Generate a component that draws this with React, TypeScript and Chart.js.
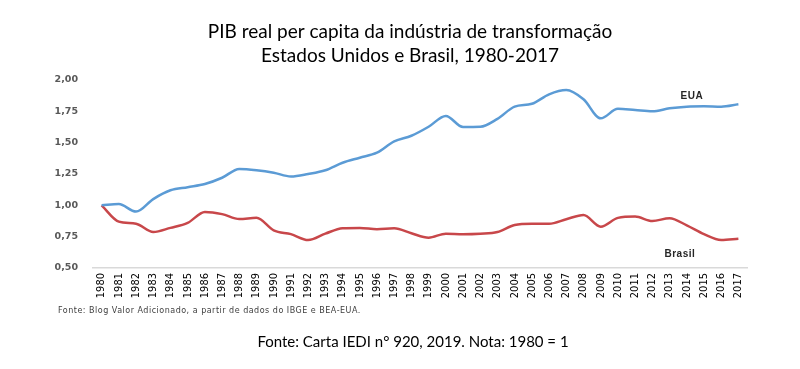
import React, { useEffect, useRef } from "react";
import { Chart, registerables } from "chart.js";

Chart.register(...registerables);

const years: string[] = [
  "1980","1981","1982","1983","1984","1985","1986","1987","1988","1989",
  "1990","1991","1992","1993","1994","1995","1996","1997","1998","1999",
  "2000","2001","2002","2003","2004","2005","2006","2007","2008","2009",
  "2010","2011","2012","2013","2014","2015","2016","2017",
];

const eua: number[] = [
  1.0, 1.01, 0.95, 1.05, 1.12, 1.145, 1.17, 1.22, 1.29, 1.28,
  1.26, 1.23, 1.25, 1.28, 1.34, 1.38, 1.42, 1.51, 1.555, 1.627,
  1.713, 1.625, 1.627, 1.69, 1.787, 1.81, 1.886, 1.92, 1.846, 1.694,
  1.77, 1.76, 1.75, 1.774, 1.787, 1.79, 1.787, 1.806,
];

const brasil: number[] = [
  1.0, 0.87, 0.853, 0.787, 0.82, 0.86, 0.947, 0.93, 0.89, 0.9,
  0.8, 0.77, 0.723, 0.774, 0.817, 0.82, 0.81, 0.817, 0.777, 0.742,
  0.774, 0.77, 0.774, 0.787, 0.843, 0.853, 0.853, 0.889, 0.923, 0.83,
  0.9, 0.91, 0.875, 0.897, 0.84, 0.77, 0.723, 0.734,
];

const yTicks: number[] = [0.5, 0.75, 1.0, 1.25, 1.5, 1.75, 2.0];

const titleLines: string[] = [
  "PIB real per capita da indústria de transformação",
  "Estados Unidos e Brasil, 1980-2017",
];
const smallSource = "Fonte: Blog Valor Adicionado, a partir de dados do IBGE e BEA-EUA.";
const footer = "Fonte: Carta IEDI n° 920, 2019. Nota: 1980 = 1";
const seriesLabels = [
  { text: "EUA", x: 34.3, y: 1.87 },
  { text: "Brasil", x: 33.6, y: 0.61 },
];

export default function App() {
  const ref = useRef<HTMLCanvasElement | null>(null);

  useEffect(() => {
    document.body.style.margin = "0";
    const canvas = ref.current!;
    const textPlugin = {
      id: "texts",
      afterDraw(chart: any) {
        const ctx = chart.ctx as CanvasRenderingContext2D;
        const xs = chart.scales.x;
        const ys = chart.scales.y;
        ctx.save();
        ctx.textBaseline = "middle";
        ctx.textAlign = "center";
        ctx.fillStyle = "#000000";
        ctx.font = "19px Lato";
        ctx.fillText(titleLines[0], 410, 32);
        ctx.fillText(titleLines[1], 410, 56);
        ctx.font = "15px Lato";
        ctx.fillText(footer, 413, 342);
        ctx.textAlign = "left";
        ctx.fillStyle = "#404040";
        ctx.font = "8px 'DejaVu Sans'";
        (ctx as any).letterSpacing = "0.5px";
        ctx.fillText(smallSource, 58, 311);
        ctx.textAlign = "center";
        ctx.fillStyle = "#262626";
        ctx.font = "bold 10px 'Liberation Sans'";
        for (const l of seriesLabels) {
          const px = xs.getPixelForValue(l.x);
          const py = ys.getPixelForValue(l.y);
          ctx.fillText(l.text, px, py);
        }
        (ctx as any).letterSpacing = "0px";
        ctx.restore();
      },
    };

    const chart = new Chart(canvas, {
      type: "line",
      data: {
        labels: years,
        datasets: [
          {
            label: "EUA",
            data: eua,
            borderColor: "#5B9BD5",
            borderWidth: 2.5,
            pointRadius: 0,
            tension: 0.4,
            cubicInterpolationMode: "monotone",
            fill: false,
          },
          {
            label: "Brasil",
            data: brasil,
            borderColor: "#C8474A",
            borderWidth: 2.5,
            pointRadius: 0,
            tension: 0.4,
            cubicInterpolationMode: "monotone",
            fill: false,
          },
        ],
      },
      options: {
        animation: false,
        responsive: false,
        maintainAspectRatio: false,
        layout: { padding: { top: 80, left: 0, right: 53, bottom: 0 } },
        plugins: {
          legend: { display: false },
          title: { display: false },
          tooltip: { enabled: false },
        },
        scales: {
          x: {
            offset: true,
            grid: { display: false, drawTicks: false },
            border: { display: true, color: "#D9D9D9", width: 1.5 },
            ticks: {
              autoSkip: false,
              maxRotation: 90,
              minRotation: 90,
              padding: 5,
              color: "#000000",
              font: { family: "'Liberation Sans Narrow', 'DejaVu Sans Condensed', sans-serif", size: 11 },
            },
            afterFit(scale: any) {
              scale.height = 101;
            },
          },
          y: {
            min: 0.5,
            max: 2.0,
            afterBuildTicks(scale: any) {
              scale.ticks = yTicks.map((v) => ({ value: v }));
            },
            grid: { display: false, drawTicks: false },
            border: { display: false },
            ticks: {
              padding: 15,
              color: "#595959",
              font: { family: "'DejaVu Sans'", size: 9.5, weight: "bold" },
              callback: (v: any) => Number(v).toFixed(2).replace(".", ","),
            },
            afterFit(scale: any) {
              scale.width = 93;
            },
          },
        },
      },
      plugins: [textPlugin],
    });
    return () => chart.destroy();
  }, []);

  return (
    <div style={{ width: 800, height: 369, position: "relative", background: "#fff" }}>
      <canvas ref={ref} width={800} height={369} style={{ display: "block" }} />
    </div>
  );
}
